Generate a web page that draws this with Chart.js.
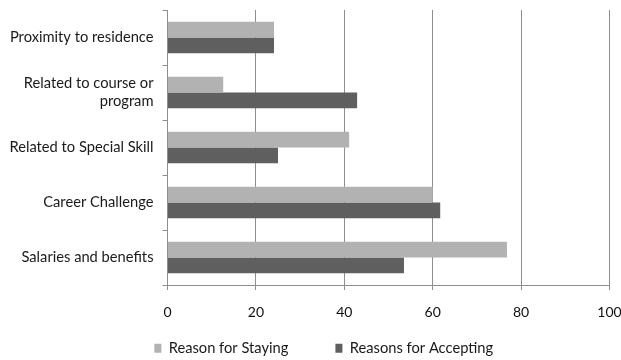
<!DOCTYPE html>
<html>
<head>
<meta charset="utf-8">
<script src="https://cdn.jsdelivr.net/npm/chart.js@4/dist/chart.umd.min.js"></script>
<style>
  html, body { margin: 0; padding: 0; background: #ffffff; }
  #wrap { width: 621px; height: 360px; }
</style>
</head>
<body>
<div id="wrap"><canvas id="c" width="621" height="360"></canvas></div>
<script>
// Reasons, top to bottom
const categories = [
  "Proximity to residence",
  ["Related to course or", "program"],
  "Related to Special Skill",
  "Career Challenge",
  "Salaries and benefits"
];
const seriesNames = ["Reason for Staying", "Reasons for Accepting"];
const stayingValues = [24.1, 12.6, 41.1, 60.0, 76.8];
const acceptingValues = [24.1, 42.9, 25.0, 61.7, 53.5];
const xTicks = [0, 20, 40, 60, 80, 100];

const FONT = "Lato, 'Open Sans', sans-serif";
const GRID = "#8e8e8e";
const LEGEND_GAP = 47;      // space between the two legend entries
const LEGEND_BAND = 30;     // height reserved for the legend in the layout
const LEGEND_TOP_FROM_BOTTOM = 66;
const LEGEND_SHIFT_X = 38;

// The wide item gap also pads the legend vertically, so reserve a fixed band
// and then place the legend block explicitly after layout.
const legendPlacement = {
  id: "legendPlacement",
  afterInit(chart) {
    const lg = chart.legend;
    if (!lg || lg._bandPatched) return;
    const origFit = lg.fit.bind(lg);
    lg.fit = function () { origFit(); this.height = LEGEND_BAND; };
    lg._bandPatched = true;
  },
  afterLayout(chart) {
    const lg = chart.legend;
    if (!lg) return;
    lg.top = chart.height - LEGEND_TOP_FROM_BOTTOM;
    lg.bottom = chart.height;
    lg.left += LEGEND_SHIFT_X;
  }
};

new Chart(document.getElementById("c"), {
  type: "bar",
  data: {
    labels: categories,
    datasets: [
      { label: seriesNames[0], data: stayingValues, backgroundColor: "#b2b2b2",
        borderWidth: 0, barPercentage: 1.0, categoryPercentage: 0.57 },
      { label: seriesNames[1], data: acceptingValues, backgroundColor: "#5f5f5f",
        borderWidth: 0, barPercentage: 1.0, categoryPercentage: 0.57 }
    ]
  },
  plugins: [legendPlacement],
  options: {
    indexAxis: "y",
    responsive: false,
    animation: false,
    layout: { padding: { top: 10, right: 11.5, left: 0, bottom: 0 } },
    plugins: {
      tooltip: { enabled: false },
      legend: {
        position: "bottom",
        labels: {
          font: { family: FONT, size: 14.7 },
          color: "#1a1a1a",
          boxWidth: 7,
          boxHeight: 9,
          padding: LEGEND_GAP
        }
      }
    },
    scales: {
      x: {
        min: 0, max: 100,
        afterBuildTicks: (s) => { s.ticks = xTicks.map(v => ({ value: v })); },
        afterFit: (s) => { s.height = 360 - 285 - LEGEND_BAND; s.paddingLeft = 0; s.paddingRight = 0; },
        grid: { color: GRID, lineWidth: 1, drawTicks: true, tickLength: 5, tickColor: GRID },
        border: { color: GRID, width: 1 },
        ticks: { font: { family: FONT, size: 14 }, color: "#111", padding: 14 }
      },
      y: {
        afterFit: (s) => { s.width = 167.5; s.paddingTop = 0; s.paddingBottom = 0; },
        grid: { drawOnChartArea: false, drawTicks: true, tickLength: 5, tickColor: GRID, offset: true },
        border: { color: GRID, width: 1 },
        ticks: { font: { family: FONT, size: 14.7 }, color: "#1a1a1a", padding: 9 }
      }
    }
  }
});
</script>
</body>
</html>
